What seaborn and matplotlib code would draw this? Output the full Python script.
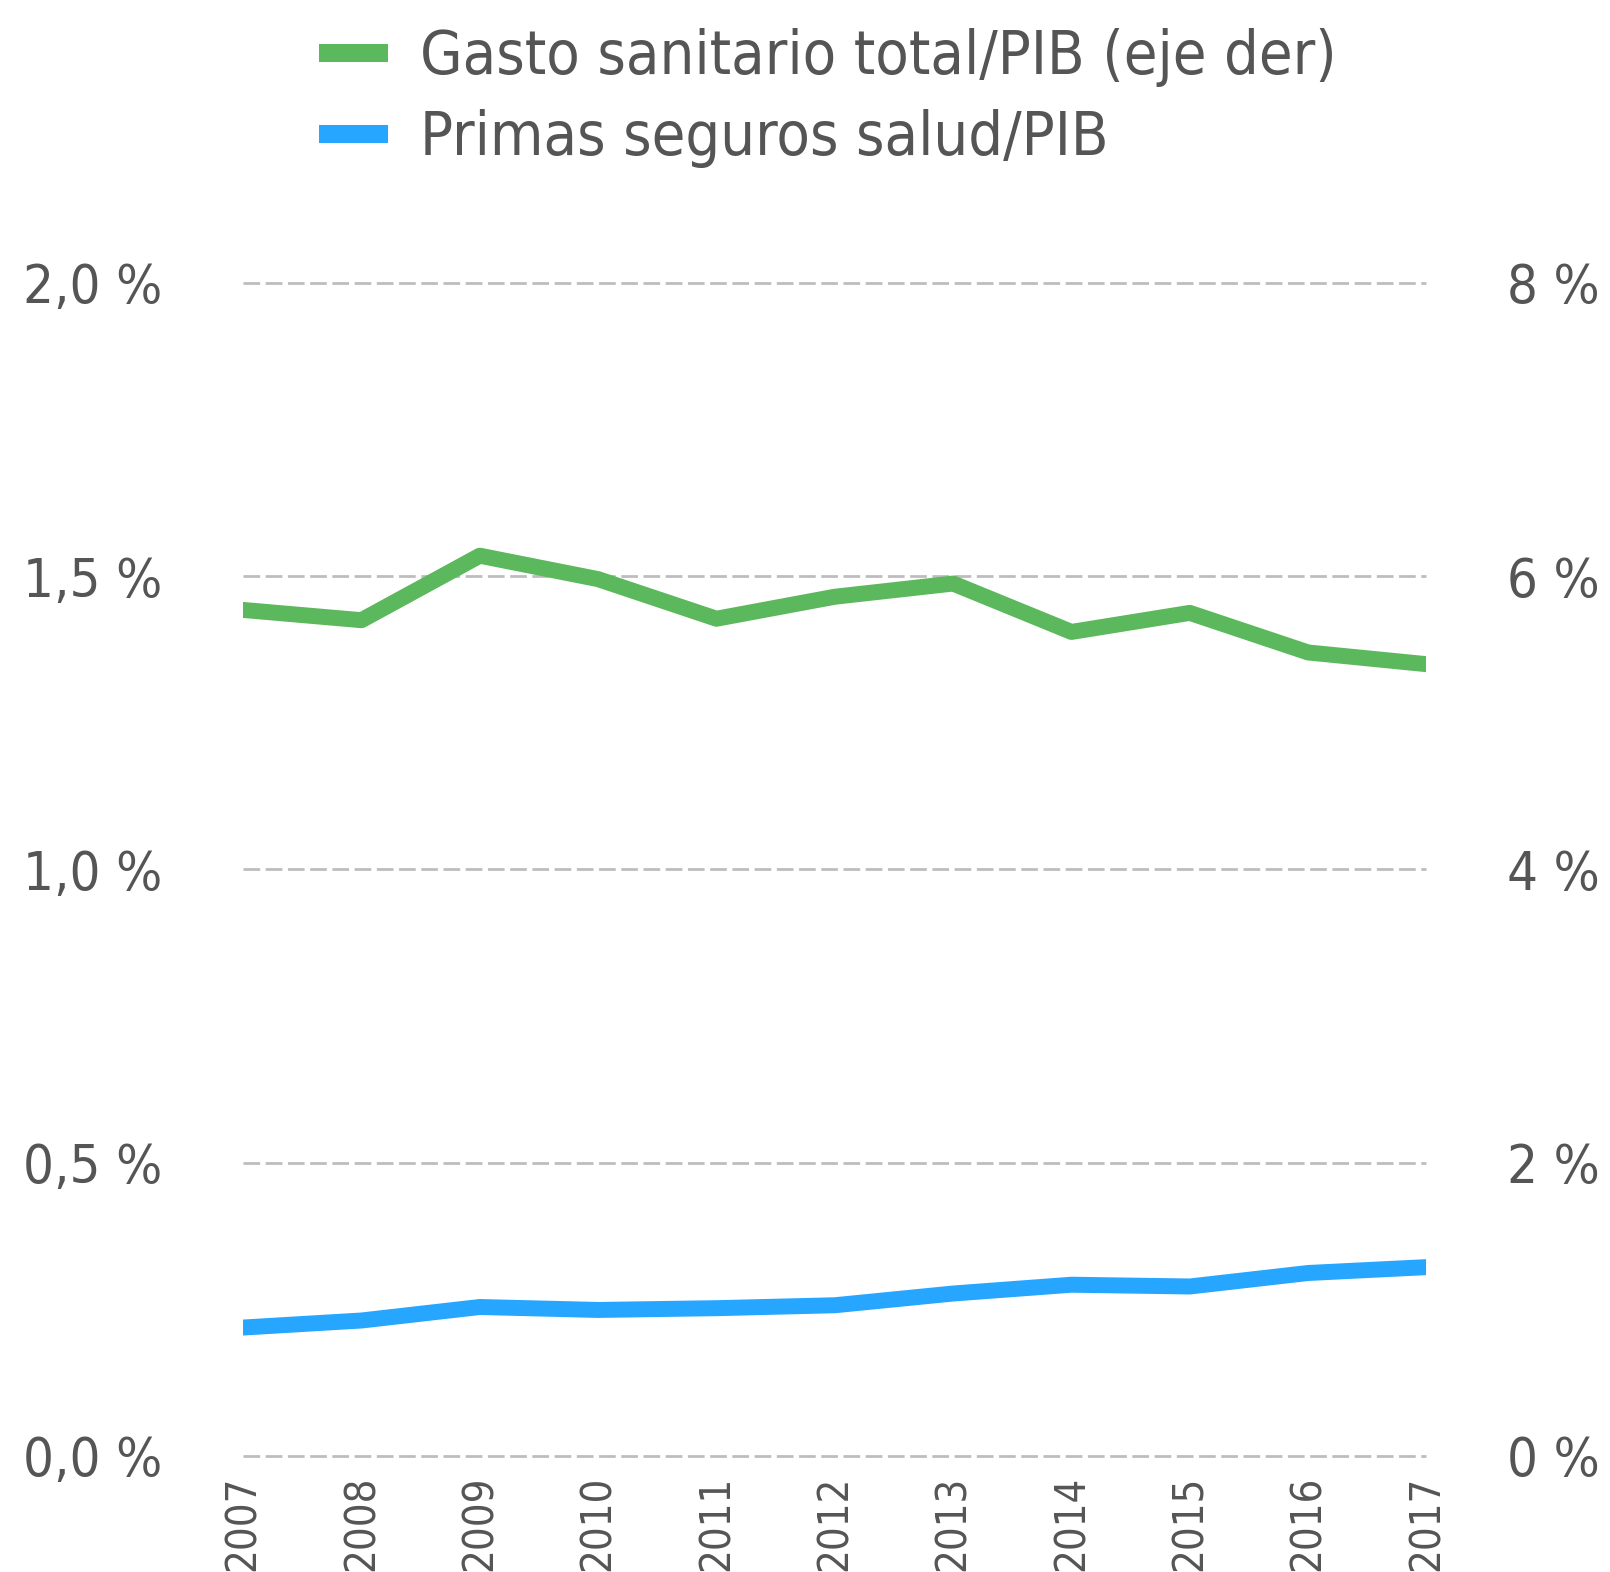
import pandas as pd
from matplotlib import pyplot as plt
from matplotlib.lines import Line2D
import seaborn as sns

# Data
years = [2007, 2008, 2009, 2010, 2011, 2012, 2013, 2014, 2015, 2016, 2017]
gasto_sanitario = [5.77, 5.70, 6.14, 5.98, 5.71, 5.86, 5.95, 5.62, 5.75, 5.48, 5.40]
primas_seguros = [0.219, 0.231, 0.254, 0.249, 0.252, 0.257, 0.277, 0.292, 0.289, 0.312, 0.322]

left_ticks = [0.0, 0.5, 1.0, 1.5, 2.0]
left_labels = ["0,0 %", "0,5 %", "1,0 %", "1,5 %", "2,0 %"]
right_ticks = [0, 2, 4, 6, 8]
right_labels = ["0 %", "2 %", "4 %", "6 %", "8 %"]

green = "#5cb85c"
blue = "#27a6ff"
text_color = "#555555"

sns.set_style("white")
plt.rcParams["font.family"] = ["DejaVu Sans"]
plt.rcParams["font.stretch"] = "condensed"

df = pd.DataFrame({"year": years, "gasto": gasto_sanitario, "primas": primas_seguros})

fig = plt.figure(figsize=(16.1, 15.72), dpi=100)
ax = fig.add_axes([0.151, 0.0738, 0.735, 0.7462])
ax2 = ax.twinx()

# Gridlines (left axis)
for t in left_ticks:
    ax.axhline(t, color="#bdbdbd", lw=2, ls=(0, (6, 2)), zorder=0, clip_on=False)

sns.lineplot(data=df, x="year", y="primas", ax=ax, color=blue, lw=11.5, zorder=3)
sns.lineplot(data=df, x="year", y="gasto", ax=ax2, color=green, lw=11.5, zorder=3)

ax.set_xlim(years[0], years[-1])
ax.set_ylim(0, 2)
ax2.set_ylim(0, 8)

ax.set_yticks(left_ticks)
ax.set_yticklabels(left_labels)
ax2.set_yticks(right_ticks)
ax2.set_yticklabels(right_labels)
ax.set_xticks(years)
ax.set_xticklabels([str(y) for y in years], rotation=90)

ax.tick_params(axis="y", length=0, pad=58, labelsize=39, labelcolor=text_color)
ax2.tick_params(axis="y", length=0, pad=58, labelsize=39, labelcolor=text_color)
ax.tick_params(axis="x", length=0, pad=14, labelsize=30, labelcolor=text_color)
for lbl in ax.get_xticklabels():
    lbl.set_verticalalignment("top")

ax.set_xlabel("")
ax.set_ylabel("")
ax2.set_ylabel("")
for a in (ax, ax2):
    for s in a.spines.values():
        s.set_visible(False)

handles = [
    Line2D([0], [0], color=green, lw=13, solid_capstyle="butt"),
    Line2D([0], [0], color=blue, lw=13, solid_capstyle="butt"),
]
fig.legend(
    handles,
    ["Gasto sanitario total/PIB (eje der)", "Primas seguros salud/PIB"],
    loc="upper left",
    bbox_to_anchor=(0.164, 1.017),
    frameon=False,
    fontsize=44,
    labelcolor=text_color,
    handlelength=1.13,
    handletextpad=0.52,
    labelspacing=0.36,
)

fig.savefig("out.png", dpi=100)
